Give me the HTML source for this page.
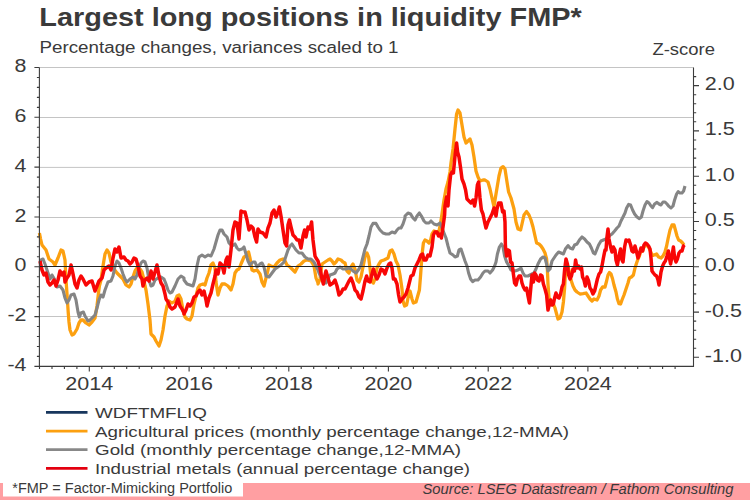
<!DOCTYPE html>
<html><head><meta charset="utf-8"><title>Largest long positions in liquidity FMP*</title>
<style>html,body{margin:0;padding:0;background:#fff;}svg{display:block;}text{font-family:"Liberation Sans",sans-serif;fill:#3a3a3a;}</style></head><body>
<svg width="750" height="500" viewBox="0 0 750 500">
<rect x="0" y="0" width="750" height="500" fill="#ffffff"/>
<rect x="0" y="483" width="750" height="17" fill="#FF9FA2"/>
<rect x="3" y="478.5" width="240" height="18" fill="#ffffff"/>
<text x="12.3" y="493.3" font-size="14" textLength="220" lengthAdjust="spacingAndGlyphs">*FMP = Factor-Mimicking Portfolio</text>
<text x="422.5" y="494" font-size="14.8" font-style="italic" textLength="311" lengthAdjust="spacingAndGlyphs">Source: LSEG Datastream / Fathom Consulting</text>
<text x="39.3" y="26.0" font-size="26" font-weight="bold" fill="#333333" textLength="542.5" lengthAdjust="spacingAndGlyphs">Largest long positions in liquidity FMP*</text>
<text x="39.5" y="53.2" font-size="15.6" textLength="359" lengthAdjust="spacingAndGlyphs">Percentage changes, variances scaled to 1</text>
<text x="652.4" y="55.2" font-size="16" textLength="62.5" lengthAdjust="spacingAndGlyphs">Z-score</text>
<line x1="39.4" x2="693.5" y1="67.5" y2="67.5" stroke="#c4c4c4" stroke-width="1"/>
<line x1="39.4" x2="693.5" y1="117.5" y2="117.5" stroke="#c4c4c4" stroke-width="1"/>
<line x1="39.4" x2="693.5" y1="167.4" y2="167.4" stroke="#c4c4c4" stroke-width="1"/>
<line x1="39.4" x2="693.5" y1="217.5" y2="217.5" stroke="#c4c4c4" stroke-width="1"/>
<line x1="39.4" x2="693.5" y1="316.5" y2="316.5" stroke="#c4c4c4" stroke-width="1"/>
<path d="M39.4,233.0 L40.6,239.0 L42.0,245.0 L46.0,250.0 L49.0,259.0 L53.0,262.0 L55.0,265.0 L58.0,258.0 L61.0,250.0 L63.0,251.0 L65.0,260.0 L66.0,280.0 L66.6,288.0 L67.4,300.0 L68.2,312.0 L69.0,322.0 L70.0,330.0 L72.0,335.0 L74.0,334.0 L77.0,329.0 L79.0,323.0 L81.0,320.0 L83.0,320.0 L86.0,323.0 L89.0,325.0 L92.0,322.0 L95.0,318.0 L97.0,306.0 L98.6,292.0 L99.4,286.0 L101.0,280.0 L103.0,266.0 L105.0,254.0 L107.0,250.0 L109.0,253.0 L111.0,262.0 L114.0,269.0 L117.0,273.0 L120.0,276.0 L123.0,279.0 L126.0,285.0 L129.0,287.0 L131.0,284.0 L133.0,277.0 L135.0,271.0 L137.0,268.0 L140.0,269.0 L142.0,272.0 L144.0,280.0 L145.0,286.0 L146.0,290.0 L148.0,304.0 L150.0,320.0 L151.0,334.0 L154.0,337.0 L156.0,341.0 L159.0,346.0 L161.0,340.0 L163.0,330.0 L165.0,316.0 L167.0,306.0 L169.0,301.0 L172.0,303.0 L175.0,301.0 L177.0,296.0 L179.0,295.0 L181.0,299.0 L183.0,310.0 L183.0,310.0 L185.0,317.0 L187.0,319.0 L190.0,320.0 L192.0,316.0 L194.0,304.0 L196.0,296.0 L198.0,288.0 L200.0,285.0 L203.0,284.0 L205.0,285.0 L207.0,278.0 L209.0,273.0 L211.0,265.0 L213.0,263.0 L215.0,268.0 L216.0,282.0 L218.0,295.0 L220.0,288.0 L222.0,284.0 L225.0,284.0 L228.0,286.0 L231.0,290.0 L233.0,284.0 L235.0,273.0 L237.0,270.0 L239.0,269.0 L241.0,264.0 L244.0,257.0 L246.0,256.0 L248.6,252.0 L250.0,258.0 L252.0,270.0 L254.0,271.0 L257.0,270.0 L260.0,274.0 L262.0,282.0 L264.0,286.0 L266.0,278.0 L268.0,270.0 L269.0,265.0 L271.0,266.0 L274.0,267.0 L277.0,263.0 L280.0,260.0 L283.0,259.0 L285.0,261.0 L287.0,265.0 L290.0,267.0 L293.0,270.0 L295.0,272.0 L298.0,266.0 L301.0,264.0 L304.0,261.0 L307.0,260.0 L311.0,261.0 L314.0,266.0 L316.0,278.0 L318.0,283.0 L318.0,284.0 L320.0,279.0 L322.0,264.0 L325.0,262.0 L328.0,260.0 L330.0,259.0 L332.0,261.0 L334.0,264.0 L336.0,262.0 L338.0,259.0 L341.0,260.0 L343.0,262.0 L345.0,263.0 L347.0,271.0 L349.0,273.0 L351.0,267.0 L353.0,264.0 L355.0,269.0 L357.0,280.0 L359.0,282.0 L361.0,277.0 L363.0,267.0 L365.0,257.0 L367.0,253.0 L368.6,257.0 L370.0,268.0 L371.4,281.0 L373.4,283.0 L375.0,279.0 L377.0,268.0 L379.0,264.0 L381.0,261.0 L384.0,260.0 L386.0,259.0 L388.0,258.0 L390.0,251.0 L392.0,250.0 L394.0,254.0 L396.0,261.0 L398.0,265.0 L400.0,275.0 L402.0,289.0 L403.0,301.0 L404.6,306.0 L406.6,305.0 L408.6,295.0 L410.0,291.0 L412.0,299.0 L413.4,303.0 L416.0,302.0 L418.0,295.0 L419.4,290.0 L420.6,275.0 L422.0,255.0 L423.4,243.0 L425.0,240.0 L427.0,241.0 L429.0,243.0 L430.6,240.0 L432.0,234.0 L434.0,231.0 L437.0,232.0 L439.0,231.0 L440.6,223.0 L442.0,214.0 L444.0,200.0 L446.0,189.0 L448.0,182.0 L450.0,172.0 L451.0,163.0 L453.0,149.0 L455.0,129.0 L456.6,114.0 L458.0,110.0 L460.0,113.0 L462.0,125.0 L464.0,137.0 L466.0,143.0 L468.0,141.0 L470.0,139.0 L472.0,145.0 L474.0,157.0 L476.0,171.0 L478.0,177.0 L480.0,181.0 L483.0,180.0 L485.0,180.0 L488.0,182.0 L490.0,189.0 L492.0,198.0 L494.0,207.0 L495.0,200.0 L497.0,188.0 L499.0,176.0 L501.0,168.0 L503.0,166.6 L505.0,169.0 L507.0,182.0 L508.6,192.0 L511.0,198.0 L514.0,209.0 L516.0,222.0 L518.0,229.0 L520.6,230.0 L522.0,224.0 L524.0,215.0 L526.6,211.6 L529.0,215.0 L531.0,220.0 L533.0,227.0 L535.0,236.0 L536.6,243.0 L539.0,244.0 L541.0,246.0 L543.0,249.0 L545.0,253.0 L546.6,259.0 L547.4,270.0 L548.0,284.0 L549.0,298.0 L550.6,300.0 L553.0,303.0 L555.0,308.0 L556.6,314.0 L558.0,319.0 L560.0,318.0 L562.0,312.0 L563.4,302.0 L564.6,288.0 L565.4,274.0 L566.6,264.0 L568.0,266.0 L569.4,272.0 L571.0,280.0 L573.0,286.0 L575.0,290.0 L577.0,292.0 L580.0,294.0 L583.0,293.6 L586.0,293.0 L588.0,296.0 L590.0,299.0 L592.0,301.0 L594.0,299.0 L597.0,300.0 L599.0,296.0 L600.6,290.0 L602.6,287.0 L605.0,287.0 L606.6,281.0 L608.0,275.0 L609.4,272.6 L611.0,274.0 L612.6,279.0 L614.0,285.0 L616.0,292.0 L617.4,299.0 L619.0,303.6 L620.6,304.0 L622.0,300.0 L624.0,295.0 L626.0,289.0 L628.0,283.0 L629.4,278.0 L631.4,277.0 L633.4,275.0 L635.0,268.0 L636.6,263.0 L638.0,259.0 L639.4,256.0 L641.0,250.0 L642.6,251.0 L644.0,247.0 L645.4,245.0 L647.0,245.6 L648.6,247.0 L650.0,250.0 L651.4,253.6 L653.0,255.4 L654.0,255.0 L656.6,254.0 L658.6,257.0 L661.0,258.0 L663.0,256.0 L665.0,252.0 L666.6,246.0 L668.2,238.0 L670.0,230.0 L672.0,225.0 L674.0,225.0 L675.4,230.0 L677.0,236.0 L678.6,240.0 L680.6,241.0 L682.6,243.0 L684.0,245.0" fill="none" stroke="#FCA010" stroke-width="3.3" stroke-linejoin="round" stroke-linecap="butt"/>
<path d="M40.0,261.0 L41.0,260.0 L43.0,259.0 L45.0,264.0 L47.0,270.0 L50.0,279.0 L52.0,275.0 L55.0,280.0 L57.0,287.0 L60.0,286.0 L63.0,290.0 L65.0,298.0 L67.0,303.0 L69.0,300.0 L71.0,295.0 L74.0,294.0 L76.0,300.0 L78.0,312.0 L79.4,317.0 L81.0,313.0 L83.4,312.0 L85.0,316.0 L88.0,321.0 L90.0,320.0 L93.0,317.0 L95.0,315.0 L97.0,308.0 L99.0,300.0 L101.0,295.0 L103.0,297.0 L105.0,290.0 L108.0,282.0 L111.0,281.0 L113.0,276.0 L115.0,266.0 L117.0,261.0 L119.0,263.0 L121.0,268.0 L123.0,274.0 L125.0,279.0 L127.0,282.0 L130.0,279.0 L133.0,277.0 L135.0,279.0 L137.0,275.0 L139.0,268.0 L141.0,263.0 L143.0,261.0 L145.0,262.0 L147.0,268.0 L149.0,280.0 L151.0,286.0 L153.0,285.0 L155.0,280.0 L158.0,278.0 L161.0,277.0 L164.0,279.0 L166.0,284.0 L168.0,290.0 L170.0,293.0 L172.0,292.0 L175.0,286.0 L178.0,279.0 L181.0,276.0 L184.0,278.0 L184.0,280.0 L187.0,284.0 L190.0,285.0 L193.0,286.0 L195.0,279.0 L197.0,266.0 L199.0,257.0 L202.0,255.0 L205.0,257.0 L208.0,255.0 L211.0,256.0 L214.0,249.0 L216.0,242.0 L218.0,235.0 L220.0,230.0 L222.0,230.0 L224.0,234.0 L227.0,237.0 L229.0,243.0 L232.0,246.0 L235.0,244.0 L237.0,248.0 L239.0,250.0 L242.0,249.0 L244.0,247.0 L246.0,254.0 L248.0,261.0 L250.0,265.0 L253.0,262.0 L255.0,262.0 L257.0,267.0 L260.0,264.0 L262.0,263.0 L264.0,267.0 L266.0,276.0 L269.0,277.0 L272.0,273.0 L275.0,269.0 L278.0,267.0 L281.0,265.0 L284.0,262.0 L286.0,256.0 L288.0,250.0 L290.0,246.0 L292.0,244.0 L294.0,247.0 L296.0,250.0 L299.0,253.0 L302.0,253.0 L305.0,257.0 L308.0,259.0 L311.0,259.0 L314.0,262.0 L316.0,266.0 L318.0,270.0 L319.0,273.0 L322.0,279.0 L326.0,283.0 L328.0,279.0 L330.0,275.0 L333.0,274.0 L335.0,273.0 L337.0,269.0 L340.0,267.0 L343.0,269.0 L346.0,269.0 L349.0,268.0 L351.0,269.0 L353.0,271.0 L356.0,273.0 L359.0,269.0 L361.0,265.0 L363.0,257.0 L365.0,249.0 L367.0,244.0 L369.0,236.0 L371.0,227.0 L373.0,223.4 L376.0,223.4 L378.0,227.0 L380.0,230.0 L383.0,233.0 L386.0,234.0 L389.0,234.0 L392.0,232.0 L395.0,233.0 L397.0,230.0 L399.0,228.0 L401.0,228.0 L403.0,224.0 L405.0,218.0 L405.0,216.0 L408.0,213.0 L410.6,214.0 L413.0,218.0 L415.0,220.0 L417.0,216.0 L419.4,213.0 L421.4,216.0 L424.0,221.0 L426.0,223.0 L429.0,223.0 L431.0,221.0 L434.0,224.0 L437.0,225.0 L440.0,223.0 L442.0,228.0 L444.0,233.0 L446.0,238.0 L448.0,246.0 L450.0,253.0 L453.0,255.0 L455.0,257.0 L457.4,256.0 L459.0,250.0 L461.0,249.0 L463.0,255.0 L465.0,261.0 L467.0,266.0 L468.6,273.0 L470.6,279.0 L472.6,281.6 L475.0,280.0 L478.0,280.0 L480.6,277.0 L483.0,273.0 L485.0,271.0 L488.0,271.0 L490.0,273.0 L492.6,270.0 L494.6,266.0 L496.0,262.0 L497.4,254.0 L499.4,247.0 L501.4,244.0 L503.0,247.0 L504.6,256.0 L506.6,262.0 L509.0,266.0 L511.0,270.0 L515.0,271.0 L518.0,270.0 L521.0,268.0 L523.0,273.0 L525.0,276.0 L528.0,276.0 L530.0,275.0 L534.0,273.0 L536.0,269.0 L538.0,264.0 L540.6,259.0 L543.0,257.0 L545.0,258.0 L546.6,264.0 L548.0,271.0 L550.0,269.0 L552.0,261.0 L554.0,258.0 L556.0,255.0 L558.6,252.0 L561.0,253.0 L563.4,254.0 L565.4,249.0 L568.0,245.6 L570.0,248.0 L572.6,249.0 L574.6,245.0 L577.0,244.0 L579.4,240.0 L582.0,237.0 L584.6,239.0 L587.0,242.0 L589.4,244.0 L591.4,248.0 L593.4,253.0 L595.0,254.0 L596.6,250.0 L598.6,245.0 L601.0,241.0 L603.4,240.0 L603.4,240.0 L606.0,239.0 L609.0,236.0 L612.0,234.0 L614.6,231.0 L617.0,228.0 L619.0,226.0 L621.0,221.0 L623.0,217.0 L625.0,213.0 L626.6,208.0 L628.6,204.4 L630.6,205.0 L632.6,210.0 L634.6,214.0 L637.0,217.0 L639.4,218.6 L641.4,217.0 L643.0,211.0 L645.0,205.0 L647.0,201.6 L649.0,203.0 L651.0,206.0 L652.6,207.6 L654.6,204.0 L657.0,202.4 L659.0,204.0 L661.0,205.0 L663.0,202.0 L665.0,202.0 L667.0,204.0 L669.0,206.4 L671.0,208.0 L673.0,206.0 L674.6,200.0 L676.6,194.0 L678.2,191.6 L680.0,193.0 L682.0,193.0 L683.6,191.0 L685.0,186.0" fill="none" stroke="#858585" stroke-width="3.1" stroke-linejoin="round" stroke-linecap="butt"/>
<path d="M40.0,261.0 L42.0,270.0 L44.0,275.0 L46.0,273.0 L48.0,282.0 L50.0,285.0 L52.0,283.0 L54.0,280.0 L56.0,286.0 L58.0,280.0 L60.0,271.0 L62.0,275.0 L64.0,272.0 L65.0,282.0 L67.0,278.0 L69.0,275.0 L71.0,265.0 L73.0,274.0 L75.0,284.0 L77.0,288.0 L79.0,280.0 L81.0,276.0 L83.0,279.0 L86.0,285.0 L89.0,282.0 L92.0,281.0 L95.0,291.0 L97.0,286.0 L99.0,281.0 L102.0,278.0 L104.0,270.0 L106.0,268.0 L109.0,266.0 L111.0,270.0 L113.0,258.0 L115.0,249.0 L117.0,252.0 L119.0,247.0 L121.0,258.0 L124.0,257.0 L126.0,260.0 L128.0,261.0 L130.0,264.0 L132.0,262.0 L134.0,258.0 L136.0,259.0 L138.0,266.0 L140.0,276.0 L142.0,279.0 L143.0,286.0 L145.0,280.0 L147.0,278.0 L149.0,281.0 L151.0,271.0 L153.0,279.0 L155.0,272.0 L157.0,265.0 L159.0,276.0 L161.0,283.0 L163.0,286.0 L164.0,290.0 L165.0,294.0 L166.0,299.0 L168.0,302.0 L170.0,307.0 L172.0,309.0 L175.0,307.0 L178.0,299.0 L180.0,306.0 L182.0,309.0 L184.0,313.0 L184.0,314.0 L186.0,310.0 L188.0,304.0 L190.0,306.0 L192.0,303.0 L194.0,297.0 L196.0,296.0 L198.0,292.0 L200.0,290.0 L202.0,295.0 L204.0,291.0 L206.0,300.0 L207.0,306.0 L209.0,298.0 L211.0,293.0 L213.0,284.0 L215.0,276.0 L216.0,270.0 L218.0,274.0 L220.0,263.0 L222.0,265.0 L224.0,273.0 L226.0,260.0 L227.4,257.0 L229.0,267.0 L231.0,250.0 L233.0,230.0 L235.0,222.0 L237.0,223.0 L239.0,239.0 L241.0,211.0 L243.0,212.0 L245.0,212.0 L247.0,220.0 L249.0,230.0 L251.0,226.0 L253.0,228.0 L255.0,237.0 L256.6,242.0 L258.0,229.0 L260.0,232.0 L263.0,233.0 L266.0,237.0 L268.0,228.0 L270.0,223.0 L272.0,213.0 L274.0,210.0 L276.0,217.0 L278.0,212.0 L279.4,207.0 L281.0,216.0 L283.0,230.0 L285.0,243.0 L286.6,246.0 L288.0,225.0 L289.4,220.0 L291.0,227.0 L293.0,235.0 L295.0,237.0 L297.0,240.0 L299.0,240.0 L301.0,248.0 L303.0,236.0 L304.6,230.0 L306.0,237.0 L308.0,227.0 L310.0,229.0 L311.6,222.0 L313.0,240.0 L315.0,256.0 L316.0,258.0 L318.0,261.0 L320.0,268.0 L322.0,279.0 L323.4,284.0 L325.0,275.0 L326.0,271.0 L328.0,278.0 L330.0,285.0 L333.0,283.0 L335.0,280.0 L337.0,286.0 L339.0,295.0 L341.0,293.0 L343.0,289.0 L345.0,289.0 L347.0,285.0 L349.0,281.0 L351.0,278.0 L353.0,283.0 L355.0,290.0 L357.0,292.0 L359.0,297.0 L361.0,299.0 L363.0,291.0 L365.0,281.0 L366.6,276.0 L368.0,281.0 L370.0,282.0 L372.0,274.0 L373.4,269.0 L375.0,274.0 L377.0,279.0 L379.0,275.0 L381.0,269.0 L383.0,270.0 L385.0,274.0 L387.0,268.0 L389.0,264.0 L390.6,263.0 L392.0,268.0 L393.4,279.0 L395.0,279.0 L397.0,284.0 L398.6,295.0 L400.0,302.0 L402.0,299.0 L404.0,297.0 L406.0,294.0 L408.0,288.0 L410.0,280.0 L411.0,276.0 L413.0,275.0 L415.0,268.0 L417.0,264.0 L419.0,260.0 L421.0,255.0 L422.6,254.0 L424.0,260.0 L426.0,260.0 L428.0,255.0 L430.0,256.0 L432.0,247.0 L433.4,235.0 L435.0,232.0 L437.0,232.0 L438.6,236.0 L440.0,234.0 L441.4,238.0 L443.0,227.0 L444.6,215.0 L445.0,206.0 L446.6,197.0 L448.0,206.0 L449.0,190.0 L450.6,175.0 L452.0,172.0 L453.4,173.0 L455.0,156.0 L456.6,143.0 L457.6,152.0 L459.0,157.0 L460.6,168.0 L462.0,179.0 L464.0,184.0 L465.6,190.0 L467.0,199.0 L469.0,201.0 L471.0,203.0 L473.0,200.0 L474.6,206.0 L476.0,198.0 L477.4,185.0 L478.6,182.0 L480.0,198.0 L481.4,210.0 L483.0,214.0 L484.6,222.0 L486.0,228.0 L488.0,222.0 L490.0,218.0 L492.0,214.0 L494.0,208.0 L496.0,216.0 L497.0,209.0 L498.6,203.0 L501.0,203.0 L502.6,212.0 L504.0,211.0 L505.0,222.0 L505.4,246.0 L506.6,256.0 L508.0,250.0 L509.4,251.0 L510.6,262.0 L512.0,263.0 L513.4,274.0 L514.6,283.0 L516.0,285.0 L517.4,279.0 L519.0,276.0 L520.6,276.0 L522.0,283.0 L523.4,287.0 L525.0,290.0 L526.6,288.0 L528.0,296.0 L529.4,303.0 L530.6,290.0 L532.0,275.0 L533.4,282.0 L534.6,273.0 L536.0,275.0 L537.4,280.0 L539.0,281.0 L540.6,275.0 L542.0,276.0 L543.4,284.0 L545.0,289.0 L546.6,295.0 L548.0,310.0 L549.4,304.0 L550.6,300.0 L552.0,305.0 L553.4,304.0 L554.6,298.0 L556.0,293.0 L557.4,297.0 L559.0,298.0 L560.6,294.0 L562.0,287.0 L563.4,284.0 L564.6,270.0 L566.0,259.0 L567.4,264.0 L568.6,275.0 L570.0,279.0 L571.4,276.0 L573.0,269.0 L574.4,271.0 L575.6,260.0 L577.0,268.0 L578.4,266.0 L580.0,269.0 L581.4,267.0 L582.6,277.0 L584.0,280.0 L585.4,286.0 L587.0,277.0 L588.6,281.0 L590.0,288.0 L591.4,290.0 L593.0,294.0 L594.6,291.0 L596.0,285.0 L597.4,279.0 L599.0,274.0 L600.6,272.0 L602.0,266.0 L603.4,258.0 L605.0,250.0 L606.0,250.0 L607.0,237.0 L608.0,229.0 L609.0,239.0 L610.6,247.0 L612.0,252.0 L613.4,247.0 L615.0,250.0 L616.0,260.0 L617.4,265.0 L619.0,256.0 L620.6,249.0 L622.0,260.0 L623.0,262.0 L624.6,247.0 L626.0,240.0 L627.4,241.0 L629.0,240.0 L630.6,245.0 L632.0,251.0 L633.4,252.0 L635.0,246.0 L636.6,252.0 L638.0,258.0 L639.4,254.0 L641.0,248.0 L642.6,251.0 L644.0,245.0 L645.4,243.0 L647.0,244.0 L648.6,246.0 L650.0,249.0 L651.0,258.0 L652.0,271.0 L653.4,273.0 L655.0,275.0 L656.6,276.0 L658.0,280.0 L659.0,285.0 L660.0,279.0 L661.0,272.0 L662.6,266.0 L664.0,263.0 L665.4,261.0 L667.0,256.0 L668.4,251.0 L669.4,258.0 L670.6,264.0 L672.0,256.0 L673.4,247.0 L674.6,258.0 L676.0,262.0 L677.4,259.0 L679.0,253.0 L680.6,251.0 L682.0,251.0 L683.4,246.0 L684.6,245.0" fill="none" stroke="#F80606" stroke-width="3.5" stroke-linejoin="round" stroke-linecap="butt"/>
<line x1="39.4" x2="693.5" y1="266.5" y2="266.5" stroke="#222" stroke-width="1.1"/>
<path d="M39.4,67.5 L39.4,366.4 L693.5,366.4 L693.5,67.5" fill="none" stroke="#3c3c3c" stroke-width="1.1"/>
<path d="M34.4,67.5 H39.4 M36.9,77.5 H39.4 M36.9,87.4 H39.4 M36.9,97.4 H39.4 M36.9,107.4 H39.4 M34.4,117.3 H39.4 M36.9,127.3 H39.4 M36.9,137.2 H39.4 M36.9,147.2 H39.4 M36.9,157.2 H39.4 M34.4,167.1 H39.4 M36.9,177.1 H39.4 M36.9,187.1 H39.4 M36.9,197.0 H39.4 M36.9,207.0 H39.4 M34.4,217.0 H39.4 M36.9,226.9 H39.4 M36.9,236.9 H39.4 M36.9,246.8 H39.4 M36.9,256.8 H39.4 M34.4,266.8 H39.4 M36.9,276.7 H39.4 M36.9,286.7 H39.4 M36.9,296.7 H39.4 M36.9,306.6 H39.4 M34.4,316.6 H39.4 M36.9,326.5 H39.4 M36.9,336.5 H39.4 M36.9,346.5 H39.4 M36.9,356.4 H39.4 M34.4,366.4 H39.4 M693.5,357.3 H699.0 M693.5,348.3 H696.2 M693.5,339.2 H696.2 M693.5,330.2 H696.2 M693.5,321.1 H696.2 M693.5,312.1 H699.0 M693.5,303.0 H696.2 M693.5,293.9 H696.2 M693.5,284.9 H696.2 M693.5,275.8 H696.2 M693.5,266.8 H699.0 M693.5,257.7 H696.2 M693.5,248.7 H696.2 M693.5,239.6 H696.2 M693.5,230.5 H696.2 M693.5,221.5 H699.0 M693.5,212.4 H696.2 M693.5,203.4 H696.2 M693.5,194.3 H696.2 M693.5,185.2 H696.2 M693.5,176.2 H699.0 M693.5,167.1 H696.2 M693.5,158.1 H696.2 M693.5,149.0 H696.2 M693.5,140.0 H696.2 M693.5,130.9 H699.0 M693.5,121.8 H696.2 M693.5,112.8 H696.2 M693.5,103.7 H696.2 M693.5,94.7 H696.2 M693.5,85.6 H699.0 M693.5,76.6 H696.2 M39.5,366.4 V369.09999999999997 M52.0,366.4 V369.09999999999997 M64.4,366.4 V369.09999999999997 M76.9,366.4 V369.09999999999997 M89.3,366.4 V371.4 M101.8,366.4 V369.09999999999997 M114.3,366.4 V369.09999999999997 M126.7,366.4 V369.09999999999997 M139.2,366.4 V369.09999999999997 M151.7,366.4 V369.09999999999997 M164.1,366.4 V369.09999999999997 M176.6,366.4 V369.09999999999997 M189.1,366.4 V371.4 M201.5,366.4 V369.09999999999997 M214.0,366.4 V369.09999999999997 M226.4,366.4 V369.09999999999997 M238.9,366.4 V369.09999999999997 M251.4,366.4 V369.09999999999997 M263.8,366.4 V369.09999999999997 M276.3,366.4 V369.09999999999997 M288.8,366.4 V371.4 M301.2,366.4 V369.09999999999997 M313.7,366.4 V369.09999999999997 M326.1,366.4 V369.09999999999997 M338.6,366.4 V369.09999999999997 M351.1,366.4 V369.09999999999997 M363.5,366.4 V369.09999999999997 M376.0,366.4 V369.09999999999997 M388.4,366.4 V371.4 M400.9,366.4 V369.09999999999997 M413.4,366.4 V369.09999999999997 M425.8,366.4 V369.09999999999997 M438.3,366.4 V369.09999999999997 M450.8,366.4 V369.09999999999997 M463.2,366.4 V369.09999999999997 M475.7,366.4 V369.09999999999997 M488.2,366.4 V371.4 M500.6,366.4 V369.09999999999997 M513.1,366.4 V369.09999999999997 M525.5,366.4 V369.09999999999997 M538.0,366.4 V369.09999999999997 M550.5,366.4 V369.09999999999997 M562.9,366.4 V369.09999999999997 M575.4,366.4 V369.09999999999997 M587.9,366.4 V371.4 M600.3,366.4 V369.09999999999997 M612.8,366.4 V369.09999999999997 M625.2,366.4 V369.09999999999997 M637.7,366.4 V369.09999999999997 M650.2,366.4 V369.09999999999997 M662.6,366.4 V369.09999999999997 M675.1,366.4 V369.09999999999997" fill="none" stroke="#3c3c3c" stroke-width="1.1"/>
<text x="26.5" y="71.7" font-size="17.5" text-anchor="end" textLength="11.9" lengthAdjust="spacingAndGlyphs">8</text>
<text x="26.5" y="121.7" font-size="17.5" text-anchor="end" textLength="11.9" lengthAdjust="spacingAndGlyphs">6</text>
<text x="26.5" y="171.6" font-size="17.5" text-anchor="end" textLength="11.9" lengthAdjust="spacingAndGlyphs">4</text>
<text x="26.5" y="221.7" font-size="17.5" text-anchor="end" textLength="11.9" lengthAdjust="spacingAndGlyphs">2</text>
<text x="26.5" y="270.7" font-size="17.5" text-anchor="end" textLength="11.9" lengthAdjust="spacingAndGlyphs">0</text>
<text x="26.5" y="320.7" font-size="17.5" text-anchor="end" textLength="19.0" lengthAdjust="spacingAndGlyphs">-2</text>
<text x="26.5" y="370.6" font-size="17.5" text-anchor="end" textLength="19.0" lengthAdjust="spacingAndGlyphs">-4</text>
<text x="704.8" y="90.0" font-size="17.5" textLength="29.9" lengthAdjust="spacingAndGlyphs">2.0</text>
<text x="704.8" y="135.3" font-size="17.5" textLength="29.9" lengthAdjust="spacingAndGlyphs">1.5</text>
<text x="704.8" y="180.6" font-size="17.5" textLength="29.9" lengthAdjust="spacingAndGlyphs">1.0</text>
<text x="704.8" y="225.9" font-size="17.5" textLength="29.9" lengthAdjust="spacingAndGlyphs">0.5</text>
<text x="704.8" y="271.2" font-size="17.5" textLength="29.9" lengthAdjust="spacingAndGlyphs">0.0</text>
<text x="704.8" y="316.5" font-size="17.5" textLength="37.1" lengthAdjust="spacingAndGlyphs">-0.5</text>
<text x="704.8" y="361.7" font-size="17.5" textLength="37.1" lengthAdjust="spacingAndGlyphs">-1.0</text>
<text x="89.3" y="390.2" font-size="17.5" text-anchor="middle" textLength="47.9" lengthAdjust="spacingAndGlyphs">2014</text>
<text x="189.1" y="390.2" font-size="17.5" text-anchor="middle" textLength="47.9" lengthAdjust="spacingAndGlyphs">2016</text>
<text x="288.8" y="390.2" font-size="17.5" text-anchor="middle" textLength="47.9" lengthAdjust="spacingAndGlyphs">2018</text>
<text x="388.4" y="390.2" font-size="17.5" text-anchor="middle" textLength="47.9" lengthAdjust="spacingAndGlyphs">2020</text>
<text x="488.2" y="390.2" font-size="17.5" text-anchor="middle" textLength="47.9" lengthAdjust="spacingAndGlyphs">2022</text>
<text x="587.9" y="390.2" font-size="17.5" text-anchor="middle" textLength="47.9" lengthAdjust="spacingAndGlyphs">2024</text>
<line x1="46" x2="87.5" y1="412.4" y2="412.4" stroke="#17365D" stroke-width="2.8"/>
<text x="95" y="417.8" font-size="15.1" textLength="112" lengthAdjust="spacingAndGlyphs">WDFTMFLIQ</text>
<line x1="46" x2="87.5" y1="431.1" y2="431.1" stroke="#FCA010" stroke-width="2.8"/>
<text x="95" y="436.5" font-size="15.1" textLength="474" lengthAdjust="spacingAndGlyphs">Agricultural prices (monthly percentage change,12-MMA)</text>
<line x1="46" x2="87.5" y1="449.7" y2="449.7" stroke="#888888" stroke-width="2.8"/>
<text x="95" y="455.1" font-size="15.1" textLength="366" lengthAdjust="spacingAndGlyphs">Gold (monthly percentage change,12-MMA)</text>
<line x1="46" x2="87.5" y1="468.4" y2="468.4" stroke="#E3000F" stroke-width="2.8"/>
<text x="95" y="473.8" font-size="15.1" textLength="375" lengthAdjust="spacingAndGlyphs">Industrial metals (annual percentage change)</text>
</svg></body></html>
